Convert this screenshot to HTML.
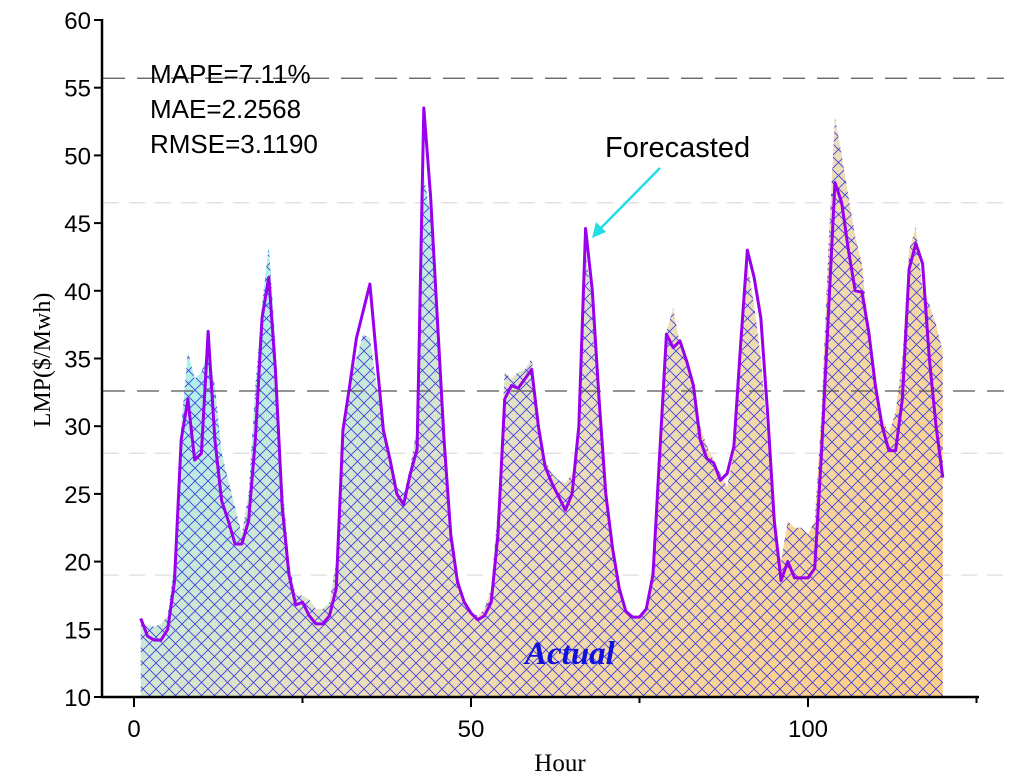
<!DOCTYPE html>
<html><head><meta charset="utf-8"><style>
body{margin:0;background:#fff}
svg{display:block}
text{font-family:"Liberation Sans",sans-serif}
</style></head><body>
<svg id="chart" width="1024" height="776" xmlns="http://www.w3.org/2000/svg">
<defs>
<linearGradient id="grad" gradientUnits="userSpaceOnUse" x1="250" y1="180" x2="820" y2="697">
<stop offset="0" stop-color="#9ef6f6"/><stop offset="0.5" stop-color="#eadfc0"/><stop offset="1" stop-color="#fdd08a"/>
</linearGradient>
<pattern id="hatch" patternUnits="userSpaceOnUse" width="13" height="13">
<path d="M0 0L13 13M13 0L0 13" stroke="#3a3ae6" stroke-width="0.8"/>
</pattern>
</defs>
<g id="grid"></g>
<g id="marks"></g>
<g id="axes"></g>
<text x="150" y="83" font-size="26">MAPE=7.11%</text>
<text x="150" y="118" font-size="26">MAE=2.2568</text>
<text x="150" y="153" font-size="26">RMSE=3.1190</text>
<text x="605" y="157" font-size="29">Forecasted</text>
<line x1="660" y1="168" x2="597" y2="232" stroke="#22dde8" stroke-width="2.5"/>
<polygon points="592,238 596,222 606,232" fill="#22dde8"/>
<text x="525" y="664" font-size="33" font-weight="bold" font-style="italic" fill="#1010e0" style="font-family:'Liberation Serif',serif">Actual</text>
<text transform="translate(50,360) rotate(-90)" text-anchor="middle" font-size="24" style="font-family:'Liberation Serif',serif">LMP($/Mwh)</text>
<text x="560" y="771" text-anchor="middle" font-size="25" style="font-family:'Liberation Serif',serif">Hour</text>
</svg>
<script>
const forecast=[15.8,14.5,14.2,14.2,15,18.5,29,32,27.5,28,37,29,24.5,23,21.3,21.3,23,29,38,41,34,24,19,16.8,17,16,15.4,15.4,16,18,29.7,33,36.5,38.5,40.5,35,29.7,27.5,25,24.2,26.5,28.3,53.5,47,38,29,22,18.5,17,16.2,15.7,16,17,22,32,33,32.8,33.5,34.2,30,27,25.8,24.8,23.8,25,30,44.6,40,32,25,21,18,16.3,15.9,15.9,16.5,19,28,36.8,35.8,36.3,34.8,33,29,27.6,27.3,26,26.5,28.5,36,43,41,38,31,23,18.6,20,18.8,18.8,18.8,19.5,28,38,48,46.5,43,40,39.9,37,33,30,28.2,28.2,32,41.6,43.5,42,35,30,26.2];
const actual=[15.5,15.3,15.2,15.4,16,20,30,35.5,33.5,34,35.5,33,28,26,24,22,25,33,39,43.3,36,26,20,17.5,17.5,17.2,16.5,16.5,17,20,28.5,33,35,36.8,36.5,33,30,27.7,25.5,25,27,30,48.5,45.5,38,29,22,19,17.2,16.3,16,16.5,18,24,34,33.5,34,34.2,35,30.5,27.5,26.5,26,25.8,26.5,29,42.8,39,32,25,21,18,16.5,16,16,16.5,20,29,37,38.7,36,35,33,30,28.5,27.5,26.5,25.5,28,35,42,39,35,29,22,20,23,22.5,22.5,22,23,31,43,52.8,50,47,44,42,37,33,30.5,29.5,31,35,43,44.7,40,39,37.5,35.5];
const yTicks=[10,15,20,25,30,35,40,45,50,55,60];
const xTicks=[0,50,100];
const xMinor=[25,75,125];
const darkRefs=[55.7,32.6];
const lightRefs=[46.5,28,19];
const NS="http://www.w3.org/2000/svg";
const X=h=>134+h*6.74, Y=v=>697-(v-10)*13.54;
function mk(tag,attrs,parent){const e=document.createElementNS(NS,tag);for(const k in attrs)e.setAttribute(k,attrs[k]);parent.appendChild(e);return e;}
const grid=document.getElementById('grid'),marks=document.getElementById('marks'),axes=document.getElementById('axes');
lightRefs.forEach(v=>{const l=mk('line',{x1:103,x2:1004,y1:Y(v),y2:Y(v),stroke:'#e2e2e2','stroke-width':1.5,'stroke-dasharray':'16 10'},grid);

});
let d='M'+X(1)+' '+Y(10);
actual.forEach((v,i)=>d+=' L'+X(i+1)+' '+Y(v));
d+=' L'+X(actual.length)+' '+Y(10)+'Z';
const a1=mk('path',{d:d,fill:'url(#grad)'},marks);


const a2=mk('path',{d:d,fill:'url(#hatch)'},marks);


darkRefs.forEach(v=>{const l=mk('line',{x1:103,x2:1004,y1:Y(v),y2:Y(v),stroke:'#555','stroke-width':1.3,'stroke-dasharray':'22 12'},marks);

});
const fl=mk('polyline',{points:forecast.map((v,i)=>X(i+1)+','+Y(v)).join(' '),fill:'none',stroke:'#9900ee','stroke-width':3,'stroke-linejoin':'round'},marks);


mk('line',{x1:102,x2:102,y1:19,y2:698,stroke:'#000','stroke-width':2.5},axes);
mk('line',{x1:101,x2:979,y1:697,y2:697,stroke:'#000','stroke-width':2.5},axes);
yTicks.forEach(v=>{mk('line',{x1:94,x2:102,y1:Y(v),y2:Y(v),stroke:'#000','stroke-width':2},axes);
const t=mk('text',{x:91,y:Y(v)+9,'text-anchor':'end','font-size':24},axes);t.textContent=v;

});
xTicks.forEach(v=>{mk('line',{x1:X(v),x2:X(v),y1:697,y2:707,stroke:'#000','stroke-width':2},axes);
const t=mk('text',{x:X(v),y:737,'text-anchor':'middle','font-size':24},axes);t.textContent=v;

});
xMinor.forEach(v=>mk('line',{x1:X(v),x2:X(v),y1:697,y2:703,stroke:'#000','stroke-width':2},axes));
</script>
</body></html>
